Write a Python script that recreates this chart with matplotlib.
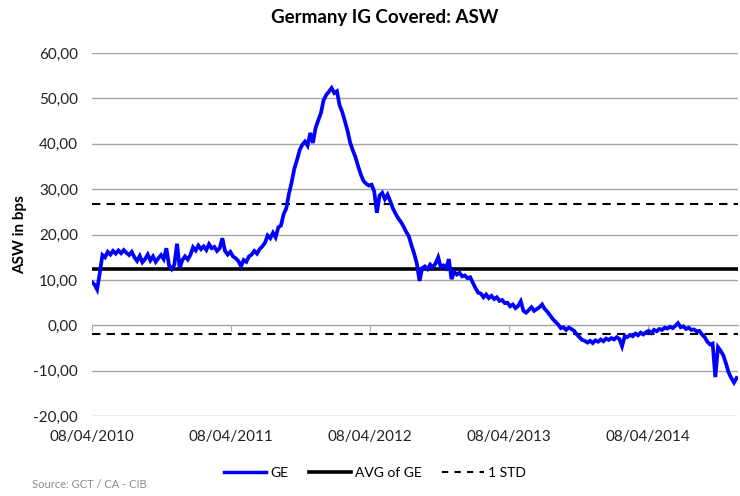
import numpy as np
import pandas as pd
import matplotlib
matplotlib.use("Agg")
import matplotlib.pyplot as plt
import matplotlib.dates as mdates
from matplotlib.lines import Line2D

plt.rcParams['font.family'] = ['Lato', 'DejaVu Sans']

title = "Germany IG Covered: ASW"
y_label = "ASW in bps"
source = "Source: GCT / CA - CIB"

start_date = "2010-04-08"
ge_values = [
    9.6, 9.0, 7.9, 11.5, 15.5, 15.0, 16.2, 15.6, 16.4, 15.8,
    16.5, 15.9, 16.6, 16.0, 15.5, 16.2, 15.0, 14.2, 15.3, 13.9,
    14.6, 15.6, 14.3, 15.2, 14.0, 14.8, 15.5, 14.6, 17.0, 13.2,
    12.4, 13.4, 18.0, 12.6, 14.4, 15.2, 14.5, 15.5, 17.2, 16.5,
    17.6, 16.8, 17.4, 16.6, 17.9, 17.0, 17.3, 16.4, 17.0, 19.2,
    16.4, 15.6, 16.2, 15.2, 14.8, 14.2, 13.0, 14.4, 14.0, 15.2,
    15.6, 16.4, 15.8, 16.8, 17.4, 18.2, 19.8, 19.2, 20.4, 19.4,
    21.6, 22.0, 24.5, 25.8, 29.0, 31.5, 34.5, 36.4, 38.6, 39.8,
    40.5, 39.6, 42.4, 40.2, 43.5, 45.2, 46.8, 49.6, 50.8, 51.5,
    52.3, 51.2, 51.6, 48.5, 47.0, 45.0, 42.8, 40.2, 38.5, 37.0,
    35.0, 33.2, 31.8, 31.2, 30.8, 31.0, 29.5, 24.8, 28.6, 29.2,
    27.8, 28.8, 27.4, 25.8, 24.6, 23.6, 22.8, 21.8, 20.6, 19.6,
    17.6, 15.8, 13.6, 9.8, 12.6, 13.0, 12.4, 13.4, 12.8, 13.6,
    15.0, 12.8, 13.2, 12.6, 14.6, 10.2, 11.8, 11.2, 11.6, 10.8,
    11.0, 10.4, 10.6, 9.4, 8.2, 7.2, 7.0, 6.2, 6.8, 6.0,
    6.5, 5.8, 6.2, 5.4, 5.6, 4.9, 5.0, 4.2, 4.6, 3.8,
    4.3, 5.3, 3.2, 2.8, 3.4, 4.0, 3.2, 3.6, 4.0, 4.6,
    3.6, 3.0, 2.2, 1.4, 0.8, 0.2, -0.6, -0.4, -1.0, -0.5,
    -0.8, -1.2, -2.0, -2.6, -3.2, -3.4, -3.8, -3.4, -3.9, -3.3,
    -3.6, -3.1, -3.5, -2.9, -3.2, -2.8, -3.1, -2.6, -3.0, -4.6,
    -2.4, -2.6, -2.1, -2.4, -1.8, -2.2, -1.6, -2.0, -1.5, -1.2,
    -1.7, -1.0, -1.3, -0.8, -1.0, -0.5, -0.7, -0.3, -0.6, -0.1,
    0.5, -0.4, -0.2, -0.8, -0.5, -1.0, -0.9, -1.3, -1.2, -2.0,
    -2.6, -3.6, -4.2, -4.0, -11.4, -4.8, -5.6, -6.6, -8.4, -10.4,
    -11.6, -12.6, -11.6,
]
avg_ge = 12.45
std_ge = 14.35

x_tick_dates = ["2010-04-08", "2011-04-08", "2012-04-08", "2013-04-08", "2014-04-08"]
x_tick_labels = ["08/04/2010", "08/04/2011", "08/04/2012", "08/04/2013", "08/04/2014"]
y_ticks = [-20, -10, 0, 10, 20, 30, 40, 50, 60]
y_tick_labels = ["-20,00", "-10,00", "0,00", "10,00", "20,00", "30,00", "40,00", "50,00", "60,00"]

dates = pd.date_range(start_date, periods=len(ge_values), freq="7D")

fig = plt.figure(figsize=(7.4, 4.96), dpi=100)
ax = fig.add_axes([0.124, 0.161, 0.873, 0.732])

ax.plot(dates, ge_values, color="#0000ff", lw=2.7, zorder=4, solid_joinstyle="miter")
ax.axhline(avg_ge, color="black", lw=2.6, zorder=3)
ax.axhline(avg_ge + std_ge, color="black", lw=1.5, ls=(0, (4, 3)), zorder=3)
ax.axhline(avg_ge - std_ge, color="black", lw=1.5, ls=(0, (4, 3)), zorder=3)

ax.set_ylim(-20, 60)
ax.set_xlim(pd.Timestamp(start_date), dates[-1] + pd.Timedelta(days=3))
ax.set_yticks(y_ticks)
ax.set_yticklabels(y_tick_labels, fontsize=11, color="#222222")
ax.tick_params(axis="y", length=0, pad=10)
ax.yaxis.grid(True, color="#a6a6a6", lw=1.0)
ax.set_axisbelow(True)

for s in ["left", "right", "top"]:
    ax.spines[s].set_visible(False)
ax.spines["bottom"].set_position(("data", 0))
ax.spines["bottom"].set_color("#a6a6a6")
tick_pos = pd.to_datetime(x_tick_dates)
ax.set_xticks(tick_pos)
ax.tick_params(axis="x", length=4, color="#a6a6a6", labelbottom=False, direction="out")

sec = ax.secondary_xaxis(0.0)
sec.set_xticks(tick_pos)
sec.set_xticklabels(x_tick_labels, fontsize=11, color="#222222")
sec.tick_params(axis="x", length=0, pad=10)
sec.spines["bottom"].set_visible(False)

ax.set_ylabel(y_label, fontsize=11, fontweight="bold", labelpad=4)
fig.text(0.52, 0.965, title, ha="center", va="center", fontsize=13.5, fontweight="bold")

handles = [
    Line2D([], [], color="#0000ff", lw=2.5),
    Line2D([], [], color="black", lw=2.6),
    Line2D([], [], color="black", lw=1.5, ls=(0, (3, 3))),
]
fig.legend(handles, ["GE", "AVG of GE", "1 STD"], loc="center", bbox_to_anchor=(0.507, 0.047),
           ncol=3, frameon=False, fontsize=10, handlelength=3.0, columnspacing=1.5, handletextpad=0.3)
fig.text(0.043, 0.013, source, fontsize=8, color="#8c8c8c", ha="left", va="bottom")

fig.savefig("out.png", dpi=100)
